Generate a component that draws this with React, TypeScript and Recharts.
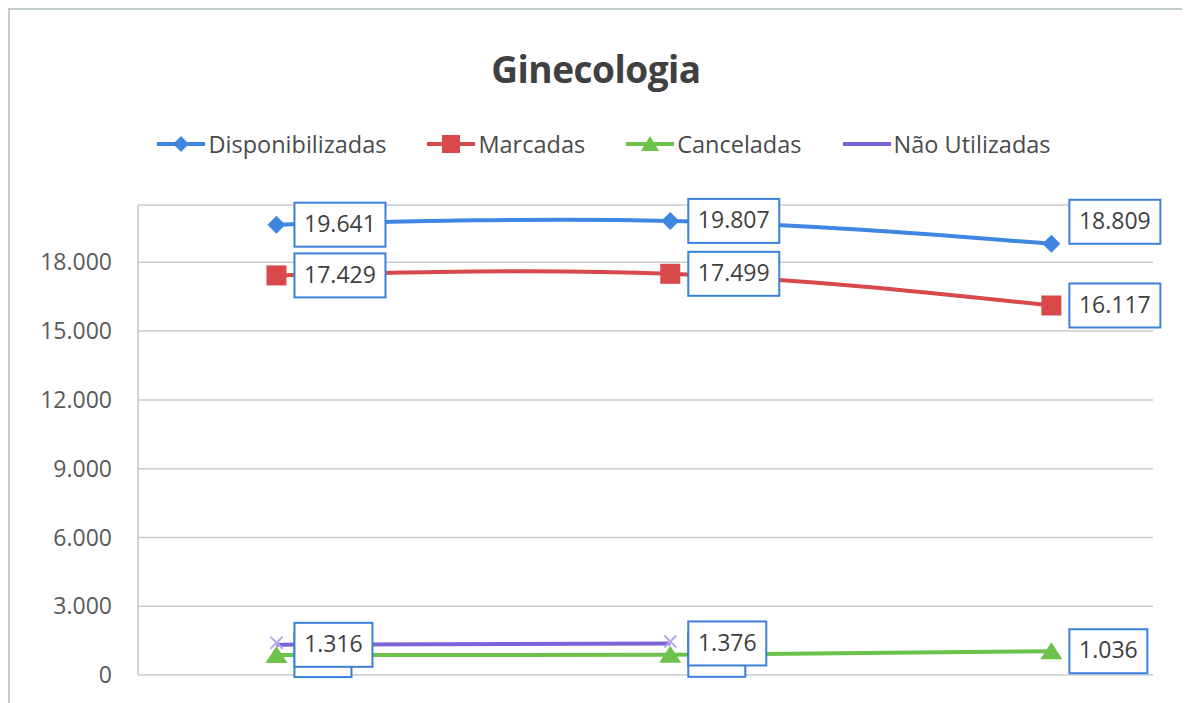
import { CartesianGrid, LabelList, Line, LineChart, XAxis, YAxis } from "recharts";

// x positions are day offsets (the source uses a date axis, points are ~1 month apart)
const days = [0, 31, 61];
const disponibilizadas = [19641, 19807, 18809];
const marcadas = [17429, 17499, 16117];
const canceladas = [870, 880, 1036];
const naoUtilizadas: (number | null)[] = [1316, 1376, null];
const yTicks = [0, 3000, 6000, 9000, 12000, 15000, 18000];

const data = days.map((d, i) => ({
  day: d,
  disp: disponibilizadas[i],
  marc: marcadas[i],
  canc: canceladas[i],
  nao: naoUtilizadas[i],
}));

const BLUE = "#3f86e3";
const RED = "#d9484b";
const GREEN = "#6cc24a";
const PURPLE = "#7d63d8";
const FONT = "'Open Sans', sans-serif";

const fmt = (v: number) => String(v).replace(/\B(?=(\d{3})+(?!\d))/g, ".");

// label box, sits to the right of the point
function boxLabel(shiftUp: number[] = []) {
  return (props: any) => {
    const { x, y, value, index } = props;
    if (value == null || x == null || y == null) return null;
    const txt = fmt(Number(value));
    const digits = txt.replace(/\./g, "").length;
    const dots = txt.length - digits;
    const w = digits * 13 + dots * 8 + 18;
    const h = 44;
    const bx = x + 18;
    const cy = shiftUp.includes(index) ? y - 22 : y;
    return (
      <g key={`lbl-${index}`}>
        <rect x={bx} y={cy - h / 2} width={w} height={h} fill="#fff" stroke="#3b80da" strokeWidth={2} />
        <text
          x={bx + w / 2}
          y={cy + 1}
          textAnchor="middle"
          dominantBaseline="middle"
          fontFamily={FONT}
          fontSize={23}
          fill="#404040"
        >
          {txt}
        </text>
      </g>
    );
  };
}

const diamond = (p: any) =>
  p.cy == null ? <g key={p.index} /> : (
    <path key={p.index} d={`M${p.cx} ${p.cy - 9}L${p.cx + 9} ${p.cy}L${p.cx} ${p.cy + 9}L${p.cx - 9} ${p.cy}Z`} fill={BLUE} />
  );
const square = (p: any) =>
  p.cy == null ? <g key={p.index} /> : <rect key={p.index} x={p.cx - 10} y={p.cy - 10} width={20} height={20} fill={RED} />;
const triangle = (p: any) =>
  p.cy == null ? <g key={p.index} /> : (
    <path key={p.index} d={`M${p.cx} ${p.cy - 9}L${p.cx + 11} ${p.cy + 8}L${p.cx - 11} ${p.cy + 8}Z`} fill={GREEN} />
  );
const cross = (p: any) =>
  p.cy == null ? <g key={p.index} /> : (
    <path key={p.index} d={`M${p.cx - 6} ${p.cy - 8}L${p.cx + 6} ${p.cy + 4}M${p.cx + 6} ${p.cy - 8}L${p.cx - 6} ${p.cy + 4}`} stroke="#b7a8ec" strokeWidth={2} />
  );

const legendItems = [
  { name: "Disponibilizadas", color: BLUE, marker: "diamond" },
  { name: "Marcadas", color: RED, marker: "square" },
  { name: "Canceladas", color: GREEN, marker: "triangle" },
  { name: "Não Utilizadas", color: PURPLE, marker: "none" },
];

function LegendRow() {
  return (
    <div
      style={{
        position: "absolute",
        top: 118,
        left: 8,
        width: 1172,
        display: "flex",
        justifyContent: "center",
        gap: 41,
        fontFamily: FONT,
        fontSize: 23.5,
        color: "#4a4a4a",
      }}
    >
      {legendItems.map((it) => (
        <div key={it.name} style={{ display: "flex", alignItems: "center" }}>
          <svg width={48} height={24} style={{ marginRight: 3 }}>
            <line x1={0} y1={12} x2={48} y2={12} stroke={it.color} strokeWidth={4} />
            {it.marker === "diamond" && <path d="M24 4L32 12L24 20L16 12Z" fill={it.color} />}
            {it.marker === "square" && <rect x={15} y={3} width={18} height={18} fill={it.color} />}
            {it.marker === "triangle" && <path d="M24 4L33 19L15 19Z" fill={it.color} />}
          </svg>
          <span>{it.name}</span>
        </div>
      ))}
    </div>
  );
}

export default function App() {
  return (
    <div
      style={{
        position: "relative",
        width: 1176,
        height: 720,
        border: "2px solid #c3cccc",
        boxSizing: "border-box",
        background: "#fff",
      }}
    >
      <div
        style={{
          position: "absolute",
          top: 33,
          left: 0,
          width: "100%",
          textAlign: "center",
          fontFamily: FONT,
          fontWeight: 700,
          fontSize: 37,
          color: "#404040",
          letterSpacing: -0.5,
        }}
      >
        Ginecologia
      </div>
      <LegendRow />
      <LineChart width={1172} height={716} data={data} margin={{ top: 195, right: 29, bottom: 51, left: 0 }}>
        <CartesianGrid vertical={false} stroke="#c9cccc" strokeWidth={1.5} />
        <XAxis dataKey="day" type="number" domain={[-10.9, 69]} hide allowDataOverflow />
        <YAxis
          domain={[0, 20500]}
          ticks={yTicks}
          width={128}
          tickFormatter={fmt}
          tickLine={false}
          tickSize={6}
          tickMargin={20}
          axisLine={{ stroke: "#c3c6c6", strokeWidth: 1.5 }}
          tick={{ fill: "#595959", fontSize: 23, fontFamily: FONT }}
          allowDataOverflow
        />
        <Line dataKey="disp" name="Disponibilizadas" type="natural" stroke={BLUE} strokeWidth={4} dot={diamond} isAnimationActive={false}>
          <LabelList dataKey="disp" content={boxLabel([2])} />
        </Line>
        <Line dataKey="marc" name="Marcadas" type="natural" stroke={RED} strokeWidth={4} dot={square} isAnimationActive={false}>
          <LabelList dataKey="marc" content={boxLabel()} />
        </Line>
        <Line dataKey="canc" name="Canceladas" type="natural" stroke={GREEN} strokeWidth={4} dot={triangle} isAnimationActive={false}>
          <LabelList dataKey="canc" content={boxLabel()} />
        </Line>
        <Line dataKey="nao" name="Não Utilizadas" type="linear" stroke={PURPLE} strokeWidth={4} dot={cross} isAnimationActive={false}>
          <LabelList dataKey="nao" content={boxLabel()} />
        </Line>
      </LineChart>
    </div>
  );
}
